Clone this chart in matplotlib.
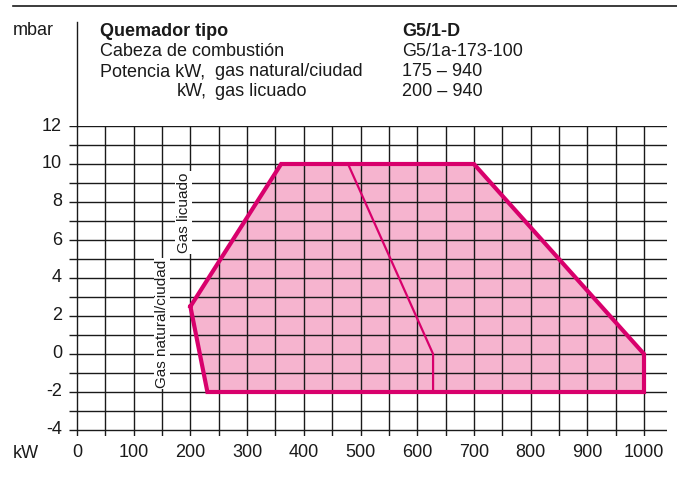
import matplotlib
matplotlib.use("Agg")
import matplotlib.pyplot as plt
import numpy as np

plt.rcParams['font.family'] = ['Liberation Sans', 'DejaVu Sans']

# datos del campo de trabajo
contorno_kw = [200, 360, 700, 1000, 1000, 230, 200]
contorno_mbar = [2.5, 10, 10, 0, -2, -2, 2.5]
licuado_kw = [478, 628, 628]
licuado_mbar = [10, 0, -2]

x_ticks = [0, 100, 200, 300, 400, 500, 600, 700, 800, 900, 1000]
y_ticks = [-4, -2, 0, 2, 4, 6, 8, 10, 12]
x_grid = np.arange(0, 1001, 50)
y_grid = np.arange(-4, 13, 1)

cabecera = [
    ("Quemador tipo", "G5/1-D"),
    ("Cabeza de combustión", "G5/1a-173-100"),
    ("Potencia kW,", "175 – 940"),
    ("kW,", "200 – 940"),
]
gases = ["gas natural/ciudad", "gas licuado"]

W, H = 677, 479
rosa = '#f6b4cf'
magenta = '#d8006c'
negro = '#1a1a1a'
fs = 13

fig = plt.figure(figsize=(W / 100, H / 100), dpi=100)

# ejes en pixeles: 0 kW -> 77px, 1000 kW -> 644px ; 12 mbar -> 126px, -4 mbar -> 430px
px_kw = 567 / 1000
px_mb = 304 / 16
x0, x1 = -14, 1040
y0, y1 = -4.32, 12
left = 77 + x0 * px_kw
right = 77 + x1 * px_kw
top = 126
bottom = 430 + (-4 - y0) * px_mb
ax = fig.add_axes([left / W, 1 - bottom / H, (right - left) / W, (bottom - top) / H])
ax.set_xlim(x0, x1)
ax.set_ylim(y0, y1)
ax.axis('off')

# relleno
ax.fill(contorno_kw, contorno_mbar, color=rosa, zorder=1, lw=0)

# rejilla
ax.hlines(y_grid, x0, x1, color=negro, lw=1.0, zorder=2)
ax.vlines(x_grid, y0, 12, color=negro, lw=1.0, zorder=2)
ax.plot([0, 0], [12, 12 + (126 - 22) / px_mb], color=negro, lw=1.0, clip_on=False, zorder=2)

# contornos
ax.plot(contorno_kw, contorno_mbar, color=magenta, lw=3.0, zorder=3, solid_joinstyle='miter')
ax.plot(licuado_kw, licuado_mbar, color=magenta, lw=1.6, zorder=3)

# etiquetas de ejes
for v in y_ticks:
    ax.text(-26.5, v, str(v), ha='right', va='center', fontsize=fs, color=negro)
for v in x_ticks:
    ax.text(v, -5.2, str(v), ha='center', va='center', fontsize=fs, color=negro)

ax.text(150, 1.6, "Gas natural/ciudad", rotation=90, ha='center', va='center', fontsize=11,
        color=negro, zorder=4, bbox=dict(facecolor='white', edgecolor='none', pad=1))
ax.text(188, 7.45, "Gas licuado", rotation=90, ha='center', va='center', fontsize=11,
        color=negro, zorder=4, bbox=dict(facecolor='white', edgecolor='none', pad=1))

def fx(px):
    return px / W

def fy(px):
    return 1 - px / H

fig.text(fx(13), fy(453), "kW", ha='left', va='center', fontsize=fs, color=negro)
fig.text(fx(13), fy(35), "mbar", ha='left', va='baseline', fontsize=fs, color=negro)

# linea superior
fig.add_artist(plt.Line2D([fx(13), 1], [fy(6), fy(6)], color=negro, lw=1.2))

# cabecera
bases = [36, 56, 76, 96]
for i, (txt, val) in enumerate(cabecera):
    peso = 'bold' if i == 0 else 'normal'
    if i == 3:
        fig.text(fx(207), fy(bases[i]), txt, ha='right', va='baseline', fontsize=fs, color=negro)
    else:
        fig.text(fx(100), fy(bases[i]), txt, ha='left', va='baseline', fontsize=fs,
                 color=negro, fontweight=peso)
    fig.text(fx(402), fy(bases[i]), val, ha='left', va='baseline', fontsize=fs,
             color=negro, fontweight=peso)
for i, g in enumerate(gases):
    fig.text(fx(215), fy(bases[i + 2]), g, ha='left', va='baseline', fontsize=fs, color=negro)

fig.savefig("out.png", dpi=100)
